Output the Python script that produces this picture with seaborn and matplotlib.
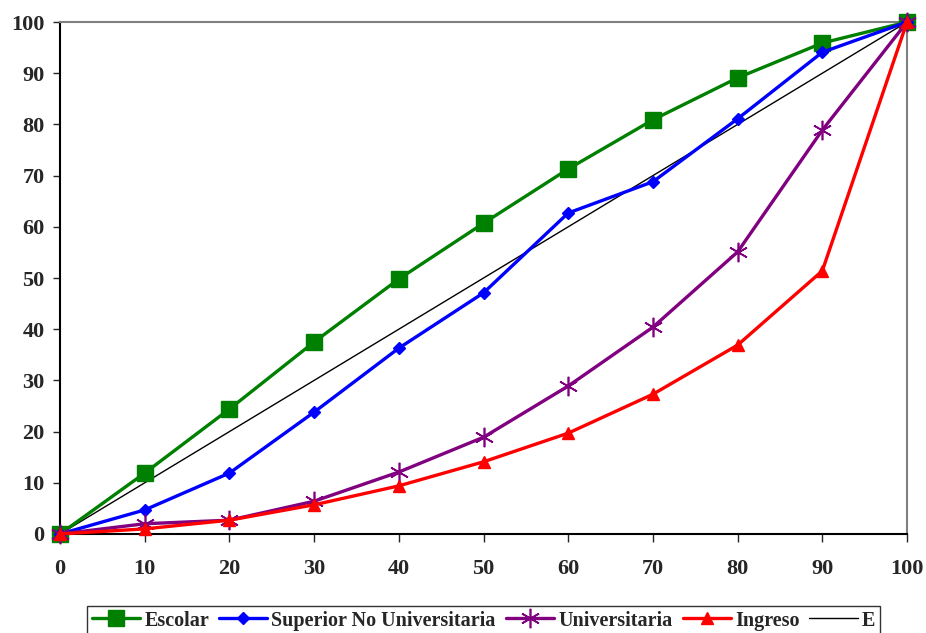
"""Lorenz-style concentration curves: Escolar, Superior No Universitaria, Universitaria, Ingreso."""

import matplotlib

matplotlib.use("Agg")
import matplotlib.pyplot as plt
import pandas as pd
import seaborn as sns

# data
percentiles = [0, 10, 20, 30, 40, 50, 60, 70, 80, 90, 100]
escolar = [0, 11.9, 24.4, 37.5, 49.8, 60.7, 71.3, 80.9, 89.1, 95.9, 100]
superior_no_univ = [0, 4.7, 11.9, 23.8, 36.3, 47.1, 62.7, 68.8, 81.1, 94.1, 100]
universitaria = [0, 2.0, 2.7, 6.4, 12.1, 18.9, 28.9, 40.4, 55.1, 78.9, 100]
ingreso = [0, 1.0, 2.7, 5.7, 9.4, 14.1, 19.7, 27.3, 36.9, 51.4, 100]
equality = [0, 100]

series = {
    "Escolar": escolar,
    "Superior No Universitaria": superior_no_univ,
    "Universitaria": universitaria,
    "Ingreso": ingreso,
}
styles = {
    "Escolar": dict(color="#008000", marker="s", markersize=12, lw=2.4),
    "Superior No Universitaria": dict(color="#0000FF", marker="D", markersize=6, lw=2.4),
    "Universitaria": dict(color="#800080", marker=(6, 2, 0), markersize=14, lw=2.4,
                          markeredgewidth=1.2),
    "Ingreso": dict(color="#FF0000", marker="^", markersize=8, lw=2.4),
}

df = pd.DataFrame(
    [(name, x, y) for name, ys in series.items() for x, y in zip(percentiles, ys)],
    columns=["serie", "x", "y"],
)

sns.set_style("white")
plt.rcParams["font.family"] = ["Liberation Serif", "DejaVu Serif"]
plt.rcParams["font.weight"] = "bold"

fig = plt.figure(figsize=(9.26, 6.33), dpi=100)
ax = fig.add_axes([0.0648, 0.1564, 0.9147, 0.8088])

for name in series:
    st = styles[name]
    sub = df[df["serie"] == name]
    sns.lineplot(
        data=sub, x="x", y="y", ax=ax, label=name, color=st["color"],
        linewidth=st["lw"], marker=st["marker"], markersize=st["markersize"],
        markeredgecolor=st["color"], markeredgewidth=st.get("markeredgewidth", 1),
        clip_on=False, zorder=3,
    )

sns.lineplot(x=equality, y=equality, ax=ax, color="black", linewidth=1.0,
             label="E", zorder=2)

ax.set_xlim(0, 100)
ax.set_ylim(0, 100)
ax.set_xticks(range(0, 101, 10))
ax.set_yticks(range(0, 101, 10))
ax.set_xlabel("")
ax.set_ylabel("")
ax.tick_params(axis="x", direction="out", length=6, width=1, pad=12,
               labelsize=16, bottom=True)
ax.tick_params(axis="y", direction="out", length=5, width=1, pad=6,
               labelsize=16, left=True)
for lbl in ax.get_xticklabels() + ax.get_yticklabels():
    lbl.set_fontweight("bold")

for side in ["left", "bottom"]:
    ax.spines[side].set_color("black")
    ax.spines[side].set_linewidth(1.5)
for side in ["top", "right"]:
    ax.spines[side].set_color("#808080")
    ax.spines[side].set_linewidth(1.5)

leg = ax.legend(
    loc="upper center", bbox_to_anchor=(0.5, -0.12), ncol=5, frameon=True,
    fancybox=False, edgecolor="black", handlelength=2.4,
    prop={"size": 14.5, "weight": "bold"},
    handletextpad=0.2, columnspacing=0.5, borderpad=0.25,
)
leg.get_frame().set_linewidth(1.0)

fig.savefig("out.png", dpi=100)
